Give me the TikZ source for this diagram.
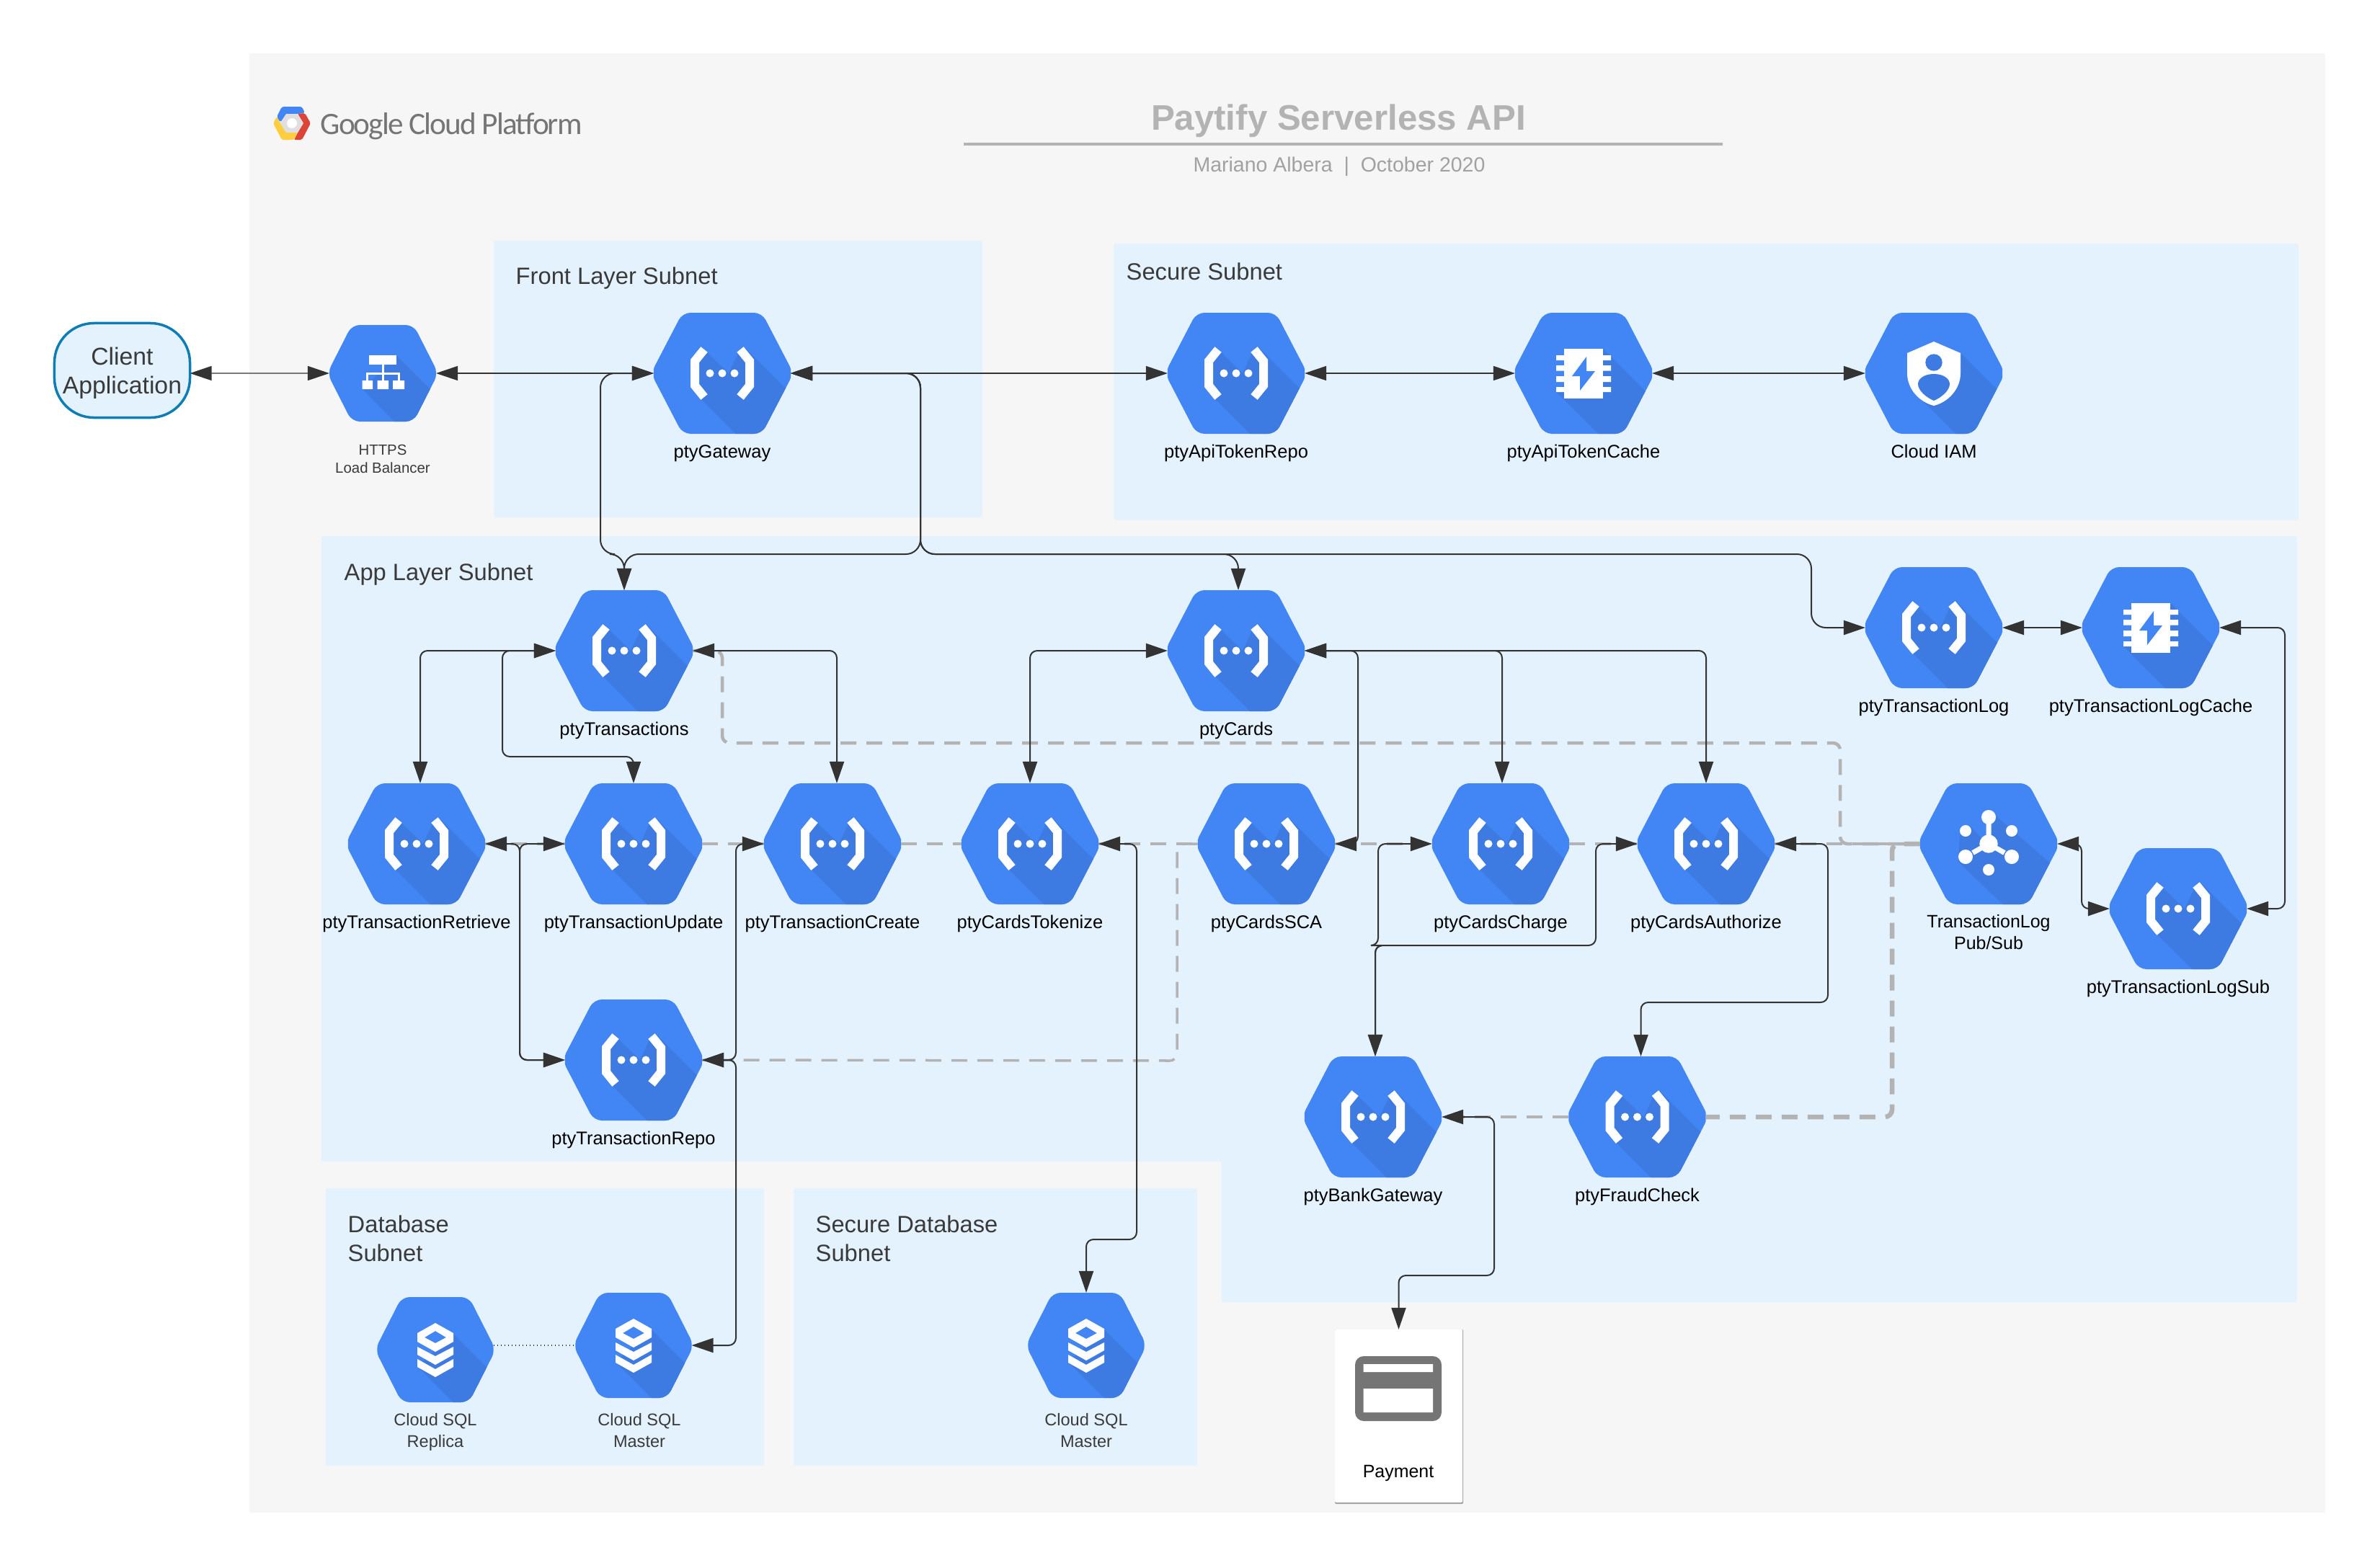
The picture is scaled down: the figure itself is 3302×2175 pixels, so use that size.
\documentclass[tikz,border=0pt]{standalone}
\usepackage{fontspec}
\setmainfont{Liberation Sans}
\newfontfamily\logofont[LetterSpace=-4.5]{Carlito}
\usetikzlibrary{arrows.meta, positioning, calc}
\definecolor{panelGrey}{HTML}{F6F6F6}
\definecolor{subnetBlue}{HTML}{E3F2FD}
\definecolor{gcpBlue}{HTML}{4285F4}
\definecolor{gcpShade}{HTML}{3D7BE3}
\definecolor{gcpRed}{HTML}{DB4437}
\definecolor{gcpYellow}{HTML}{FFCD40}
\definecolor{clientBlue}{HTML}{0E7CB5}
\definecolor{lineDark}{HTML}{333333}
\definecolor{dashGrey}{HTML}{B3B3B3}
\definecolor{cardGrey}{HTML}{757575}
\definecolor{textDark}{HTML}{3A3A3A}

% hexagon with its shade and icon: half width, half height, shade, icon
\newcommand{\hexbody}[4]{%
  \begin{scope}[shift={(path picture bounding box.center)}]
    \fill[gcpBlue, rounded corners=0.11cm] (-1.04*#1,0) -- (-0.58*#1,-#2) -- (0.58*#1,-#2) -- (1.04*#1,0) -- (0.58*#1,#2) -- (-0.58*#1,#2) -- cycle;
    \begin{scope}
      \clip[rounded corners=0.11cm] (-1.04*#1,0) -- (-0.58*#1,-#2) -- (0.58*#1,-#2) -- (1.04*#1,0) -- (0.58*#1,#2) -- (-0.58*#1,#2) -- cycle;
      \fill[gcpShade] #3;
    \end{scope}
    #4
  \end{scope}}

\newcommand{\fnicon}{%
  \draw[white, line width=0.12cm, miter limit=4] (-25,-33) -- (-38,-17) -- (-38,17) -- (-25,33);
  \draw[white, line width=0.12cm, miter limit=4] (25,-33) -- (38,-17) -- (38,17) -- (25,33);
  \fill[white] (-17,0) circle (5.5) (0,0) circle (5.5) (17,0) circle (5.5);}

\newcommand{\lbicon}{%
  \fill[white] (-19,-25) rectangle (19,-12);
  \draw[white, line width=0.03cm] (0,-12) -- (0,10) (-21.5,10) -- (-21.5,0) -- (22,0) -- (22,10);
  \fill[white] (-28.5,10) rectangle (-14,22) (-7.5,10) rectangle (8,22) (14,10) rectangle (30,22);}

\newcommand{\chipicon}{%
  \fill[white] (-27,-34) rectangle (27,35);
  \fill[white] (-38,-25) rectangle (38,-18) (-38,-11) rectangle (38,-3.5) (-38,4) rectangle (38,12) (-38,19) rectangle (38,26);
  \fill[gcpBlue] (4,-23) -- (-16,4) -- (-5,4) -- (-5,24) -- (16,-3) -- (4,-3) -- cycle;}

\newcommand{\iamicon}{%
  \fill[white] (0,-44) -- (37,-28) -- (37,0) .. controls (37,22) and (20,40) .. (0,45) .. controls (-20,40) and (-37,22) .. (-37,0) -- (-37,-28) -- cycle;
  \fill[gcpShade] (0,-15) circle (11.7);
  \fill[gcpShade] (0,1) .. controls (14,1) and (22,8) .. (22,15) .. controls (22,24) and (10,34) .. (0,38) .. controls (-10,34) and (-22,24) .. (-22,15) .. controls (-22,8) and (-14,1) .. (0,1) -- cycle;}

\newcommand{\pubsubicon}{%
  \draw[white, line width=0.07cm] (0,-28) -- (0,-12) (-22,12.5) -- (-8,4.5) (22,12.5) -- (8,4.5);
  \fill[white] (0,0) circle (12.7) (0,-37) circle (10) (-32,18) circle (10) (32,18) circle (10);
  \fill[white] (-32,-18) circle (8) (32,-18) circle (8) (0,36) circle (8);}

\newcommand{\sqlicon}{%
  \fill[white, even odd rule] (0,-37) -- (25,-23) -- (25,-11) -- (0,3) -- (-25,-11) -- (-25,-23) -- cycle (0,-26) -- (15,-17) -- (0,-9) -- (-15,-17) -- cycle;
  \fill[white] (-25,-4) -- (0,9) -- (25,-4) -- (25,7) -- (0,21) -- (-25,7) -- cycle;
  \fill[white] (-25,13) -- (0,27) -- (25,13) -- (25,24) -- (0,38) -- (-25,24) -- cycle;}

\begin{document}
\begin{tikzpicture}[
    x=0.01cm, y=-0.01cm,
    subnet/.style={fill=subnetBlue, rounded corners=0.03cm},
    hexnode/.style={rectangle, inner sep=0pt, outer sep=0pt, minimum width=1.9cm, minimum height=1.68cm},
    fnhex/.style={hexnode, path picture={\hexbody{95}{84}{(-28,37) -- (33,98) -- (120,98) -- (120,53) -- (30,-37) -- (24,-32) -- (9,0) -- (-21,-29) -- (-38,-21) -- (-38,21) -- cycle}{\fnicon}}},
    chiphex/.style={hexnode, path picture={\hexbody{95}{84}{(-38,26) -- (33,97) -- (120,97) -- (120,59) -- (27,-34) -- cycle}{\chipicon}}},
    iamhex/.style={hexnode, path picture={\hexbody{95}{84}{(-14,40) -- (43,97) -- (120,97) -- (120,55) -- (37,-28) -- cycle}{\iamicon}}},
    pubsubhex/.style={hexnode, path picture={\hexbody{95}{84}{(-42,25) -- (33,97) -- (120,97) -- (120,57) -- (11,-38) -- (0,-15) -- (-8,-6) -- (-25,-24) -- (-40,-12) -- cycle}{\pubsubicon}}},
    lbhex/.style={hexnode, minimum width=1.48cm, minimum height=1.34cm, path picture={\hexbody{74}{67}{(-28,22) -- (24,75) -- (100,75) -- (100,56) -- (19,-25) -- cycle}{\lbicon}}},
    sqlhex/.style={hexnode, minimum width=1.61cm, minimum height=1.46cm, path picture={\hexbody{80.5}{73}{(-25,23) -- (33,81) -- (100,81) -- (100,53) -- (25,-22) -- cycle}{\sqlicon}}},
    hexlabel/.style={inner sep=0pt, text height=0.17cm, text depth=0.07cm, font=\fontsize{7.25}{8.6}\selectfont},
    iconlabel/.style={inner sep=0pt, align=center, font=\fontsize{7.1}{8.54}\selectfont},
    smalllabel/.style={inner sep=0pt, align=center, text=textDark, font=\fontsize{6.7}{8.54}\selectfont},
    subnetlabel/.style={inner sep=0pt, anchor=west, align=left, text=textDark, font=\fontsize{9.3}{11.38}\selectfont},
    clientbox/.style={rectangle, draw=clientBlue, fill=subnetBlue, line width=0.035cm, rounded corners=0.55cm, inner sep=0pt, outer sep=0pt, minimum width=1.88cm, minimum height=1.31cm, align=center, text=textDark, font=\fontsize{9.6}{11.38}\selectfont},
    paybox/.style={rectangle, fill=white, rounded corners=0.02cm, inner sep=0pt, outer sep=0pt, minimum width=1.77cm, minimum height=2.4cm},
    flow/.style={{Triangle[length=0.3cm,width=0.2cm]}-{Triangle[length=0.3cm,width=0.2cm]}, draw=lineDark, fill=none, line width=0.02cm, rounded corners=0.1cm},
    wideflow/.style={flow, rounded corners=0.2cm},
    dashflow/.style={draw=dashGrey, line width=0.045cm, dash pattern=on 0.22cm off 0.14cm, rounded corners=0.1cm}
]
\useasboundingbox (0,0) rectangle (3302,2175);

% Panels
\fill[panelGrey, rounded corners=0.02cm] (346,74) rectangle (3226,2099);
\fill[subnet] (685,334) rectangle (1363,718);
\fill[subnet] (1545,338) rectangle (3189,722);
\fill[subnet] (446,744) -- (3187,744) -- (3187,1807) -- (1695,1807) -- (1695,1612) -- (446,1612) -- cycle;
\fill[subnet] (452,1649) rectangle (1060,2034);
\fill[subnet] (1101,1649) rectangle (1661,2034);

% Logo
\begin{scope}[shift={(405,171)}]
  \fill[gcpBlue, rounded corners=0.03cm] (-14,-23) -- (14,-23) -- (18,-14) -- (8,-13) -- (-8,-13) -- (-16,-1) -- (-21,-9) -- cycle;
  \fill[gcpRed, rounded corners=0.02cm] (18,-14) -- (26,0) -- (14,23) -- (3,23) -- (8,13) -- (16,0) -- (8,-13) -- cycle;
  \fill[gcpYellow, rounded corners=0.02cm] (-26,0) -- (-21,-9) -- (-16,0) -- (-8,13) -- (8,13) -- (3,23) -- (-14,23) -- cycle;
  \fill[gray!25] (-16,0) -- (-8,-13) -- (8,-13) -- (16,0) -- (8,13) -- (-8,13) -- cycle;
  \fill[white] (0,0) circle (7);
\end{scope}
\node[inner sep=0pt, anchor=west, text=cardGrey, font=\logofont\fontsize{12.3}{14}\selectfont] (logotext) at (444,175) {Google Cloud Platform};

% Title
\node[inner sep=0pt, text=dashGrey, font=\bfseries\fontsize{14}{17}\selectfont] (title) at (1857,168) {Paytify Serverless API};
\coordinate (ruleleft) at (1337,200);
\coordinate (ruleright) at (2390,200);
\draw[dashGrey, line width=0.035cm] (ruleleft) -- (ruleright);
\node[inner sep=0pt, text=dashGrey!90!black, font=\fontsize{8.1}{10}\selectfont] (subtitle) at (1858,231) {Mariano Albera~~|~~October 2020};

\node[subnetlabel] (frontlabel) at (715,386) {Front Layer Subnet};
\node[subnetlabel] (securelabel) at (1562,377) {Secure Subnet};
\node[subnetlabel] (applabel) at (477,797) {App Layer Subnet};
\node[subnetlabel] (dblabel) at (482,1719) {Database\\Subnet};
\node[subnetlabel] (securedblabel) at (1131,1719) {Secure Database\\Subnet};

% Top row
\node[clientbox] (client) at (169.5,514) {\rule{0pt}{9.2pt}Client\\Application};
\node[lbhex] (balancer) at (531,518) {};
\node[smalllabel, font=\fontsize{5.8}{7.1}\selectfont] (balancerlabel) at (531,637) {HTTPS\\Load Balancer};
\node[fnhex] (gateway) at (1002,518) {};
\node[fnhex] (tokenrepo) at (1715,518) {};
\node[chiphex] (tokencache) at (2197,518) {};
\node[iamhex] (iam) at (2683,518) {};
\node[hexlabel, below=0.16cm of gateway] (gatewaylabel) {ptyGateway};
\node[hexlabel, below=0.16cm of tokenrepo] (tokenrepolabel) {ptyApiTokenRepo};
\node[hexlabel, below=0.16cm of tokencache] (tokencachelabel) {ptyApiTokenCache};
\node[hexlabel, below=0.16cm of iam] (iamlabel) {Cloud IAM};

% App layer
\node[fnhex] (transactions) at (866,903) {};
\node[fnhex] (cards) at (1715,903) {};
\node[fnhex] (txlog) at (2683,871) {};
\node[chiphex] (txlogcache) at (2984,871) {};
\node[fnhex] (retrieve) at (578,1171) {};
\node[fnhex] (update) at (879,1171) {};
\node[fnhex] (create) at (1155,1171) {};
\node[fnhex] (tokenize) at (1429,1171) {};
\node[fnhex] (sca) at (1757,1171) {};
\node[fnhex] (charge) at (2082,1171) {};
\node[fnhex] (authorize) at (2367,1171) {};
\node[pubsubhex] (pubsub) at (2759,1171) {};
\node[fnhex] (txlogsub) at (3022,1261) {};
\node[fnhex] (txrepo) at (879,1471) {};
\node[fnhex] (bank) at (1905,1550) {};
\node[fnhex] (fraud) at (2271.5,1550) {};
\node[hexlabel, below=0.16cm of transactions] (transactionslabel) {ptyTransactions};
\node[hexlabel, below=0.16cm of cards] (cardslabel) {ptyCards};
\node[hexlabel, below=0.16cm of txlog] (txloglabel) {ptyTransactionLog};
\node[hexlabel, below=0.16cm of txlogcache] (txlogcachelabel) {ptyTransactionLogCache};
\node[hexlabel, below=0.16cm of retrieve] (retrievelabel) {ptyTransactionRetrieve};
\node[hexlabel, below=0.16cm of update] (updatelabel) {ptyTransactionUpdate};
\node[hexlabel, below=0.16cm of create] (createlabel) {ptyTransactionCreate};
\node[hexlabel, below=0.16cm of tokenize] (tokenizelabel) {ptyCardsTokenize};
\node[hexlabel, below=0.16cm of sca] (scalabel) {ptyCardsSCA};
\node[hexlabel, below=0.16cm of charge] (chargelabel) {ptyCardsCharge};
\node[hexlabel, below=0.16cm of authorize] (authorizelabel) {ptyCardsAuthorize};
\node[iconlabel] (pubsublabel) at (2759,1294) {TransactionLog\\Pub/Sub};
\node[hexlabel, below=0.16cm of txlogsub] (txlogsublabel) {ptyTransactionLogSub};
\node[hexlabel, below=0.16cm of txrepo] (txrepolabel) {ptyTransactionRepo};
\node[hexlabel, below=0.16cm of bank] (banklabel) {ptyBankGateway};
\node[hexlabel, below=0.16cm of fraud] (fraudlabel) {ptyFraudCheck};

% Databases
\node[sqlhex] (replica) at (604,1873) {};
\node[sqlhex] (master) at (879,1867) {};
\node[sqlhex] (securemaster) at (1507,1867) {};
\node[smalllabel] (replicalabel) at (604,1987) {Cloud SQL\\Replica};
\node[smalllabel] (masterlabel) at (887,1985) {Cloud SQL\\Master};
\node[smalllabel] (securemasterlabel) at (1507,1985) {Cloud SQL\\Master};

% Payment
\fill[gray!75, rounded corners=0.02cm] (1852,1845) rectangle (2030,2087);
\node[paybox] (payment) at (1940.5,1965) {};
\fill[cardGrey, rounded corners=0.12cm] (1880,1882) rectangle (2000,1972);
\fill[white] (1891.5,1893) rectangle (1988,1904) (1891.5,1927) rectangle (1988,1960);
\node[iconlabel] (paymentlabel) at (1940,2044) {Payment};

% Dashed links
\draw[dashflow] (retrieve.east) -- (update.west);
\draw[dashflow] (update.east) -- (create.west);
\draw[dashflow] (create.east) -- (tokenize.west);
\draw[dashflow] (tokenize.east) -- (sca.west);
\draw[dashflow] (sca.east) -- (charge.west);
\draw[dashflow] (charge.east) -- (authorize.west);
\draw[dashflow] (authorize.east) -- (pubsub.west);
\draw[dashflow] (fraud.west) -- (bank.east);
\draw[dashflow] (transactions.east) -| (1002,1031) -| (2553,1171) -- (pubsub.west);
\draw[dashflow, line width=0.035cm] (sca.west) -| (1633,1472) -- (txrepo.east);
\draw[dashflow, line width=0.065cm] (pubsub.west) -| (2625,1550) -- (fraud.east);

% Links
\draw[flow, line width=0.012cm] ([yshift=-0.04cm]client.east) -- (balancer.west);
\draw[flow, line width=0.012cm] (balancer.east) -- (gateway.west);
\draw[flow, line width=0.012cm] (gateway.east) -- (tokenrepo.west);
\draw[flow, line width=0.012cm] (tokenrepo.east) -- (tokencache.west);
\draw[flow, line width=0.012cm] (tokencache.east) -- (iam.west);
\draw[wideflow] (gateway.west) -| (833,769) -| (transactions.north);
\draw[wideflow] (gateway.east) -| (1277,769) -| (transactions.north);
\draw[wideflow] (gateway.east) -| (1277,769) -| ([xshift=0.03cm]cards.north);
\draw[wideflow] (gateway.east) -| (1277,769) -| (2513,871) -- (txlog.west);
\draw[flow] (txlog.east) -- (txlogcache.west);
\draw[flow] (txlogcache.east) -| (3170,1261) -- (txlogsub.east);
\draw[flow] (pubsub.east) -| (2888,1261) -- (txlogsub.west);
\draw[flow] (transactions.west) -| ([xshift=0.05cm]retrieve.north);
\draw[flow] (transactions.west) -| (697,1050) -| (update.north);
\draw[flow] (transactions.east) -| ([xshift=0.06cm]create.north);
\draw[flow] (cards.west) -| (tokenize.north);
\draw[flow] (cards.east) -| (1884,1171) -- (sca.east);
\draw[flow] (cards.east) -| ([xshift=0.02cm]charge.north);
\draw[flow] (cards.east) -| (authorize.north);
\draw[flow] (txrepo.west) -| (721,1171) -- (retrieve.east);
\draw[flow] (txrepo.west) -| (721,1171) -- (update.west);
\draw[flow] (txrepo.east) -| (1021,1171) -- (create.west);
\draw[flow] (txrepo.east) -| (1021,1867) -- (master.east);
\draw[flow] (tokenize.east) -| (1577,1720) -| (securemaster.north);
\draw[flow] (charge.west) -| (1912,1312) -| ([xshift=0.03cm]bank.north);
\draw[flow] (authorize.west) -| (2214,1312) -| ([xshift=0.03cm]bank.north);
\draw[flow] (authorize.east) -| (2536,1391) -| ([xshift=0.05cm]fraud.north);
\draw[flow] (bank.east) -| (2073,1770) -| (payment.north);
\draw[lineDark, line width=0.015cm, densely dotted] (replica.east |- master.west) -- (master.west);

\end{tikzpicture}
\end{document}
